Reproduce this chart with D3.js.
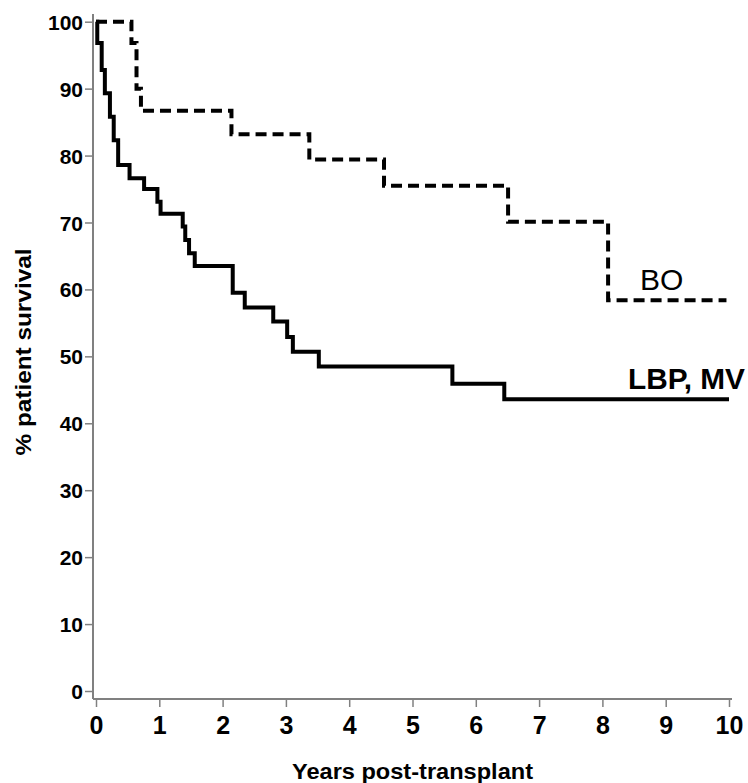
<!DOCTYPE html>
<html>
<head>
<meta charset="utf-8">
<script src="https://cdn.jsdelivr.net/npm/d3@7"></script>
<style>
  html, body { margin: 0; padding: 0; background: #fff; }
  svg { display: block; }
  text { font-family: "Liberation Sans", Arial, sans-serif; fill: #000; }
</style>
</head>
<body>
<svg id="chart" width="748" height="783"></svg>
<script>
// ---- Data ----
const xTicks = [0, 1, 2, 3, 4, 5, 6, 7, 8, 9, 10];
const yTicks = [0, 10, 20, 30, 40, 50, 60, 70, 80, 90, 100];

// LBP, MV (solid) : step times (years) and survival after each step (%)
const lbpTimes    = [0, 0.02, 0.09, 0.14, 0.22, 0.28, 0.35, 0.53, 0.76, 0.97, 1.02, 1.37, 1.41, 1.47, 1.56, 2.16, 2.35, 2.80, 3.02, 3.11, 3.52, 5.63, 6.45, 10.0];
const lbpSurvival = [100, 96.8, 92.8, 89.3, 85.8, 82.3, 78.6, 76.6, 75.0, 73.1, 71.3, 69.4, 67.4, 65.4, 63.5, 59.5, 57.3, 55.2, 52.9, 50.7, 48.5, 45.9, 43.6, 43.6];

// BO (dashed)
const boTimes    = [0, 0.56, 0.64, 0.71, 2.14, 3.37, 4.55, 6.51, 8.09, 9.96];
const boSurvival = [100, 96.8, 90.0, 86.7, 83.2, 79.4, 75.5, 70.1, 58.4, 58.4];

const seriesLabels = ["LBP, MV", "BO"];
const xTitle = "Years post-transplant";
const yTitle = "% patient survival";

// ---- Layout ----
const svg = d3.select("#chart");
const x = d3.scaleLinear().domain([0, 10]).range([96, 729]);
const y = d3.scaleLinear().domain([0, 100]).range([691, 21.7]);
const axisColor = "#808080";
const axisX = 93, axisY = 699;

// Y axis
const yAxis = d3.axisLeft(y).tickValues(yTicks).tickSize(8).tickSizeOuter(0).tickPadding(2);
const gy = svg.append("g").attr("transform", `translate(${axisX},0)`).call(yAxis);
gy.select(".domain").remove();
gy.selectAll(".tick line").attr("stroke", axisColor).attr("stroke-width", 1.5);
gy.selectAll(".tick text")
  .style("font-family", '"Liberation Sans", Arial, sans-serif')
  .style("font-weight", "bold").style("font-size", "21px").attr("fill", "#000")
  .attr("dy", "0.36em");
svg.append("line").attr("x1", axisX).attr("x2", axisX).attr("y1", 14).attr("y2", axisY)
  .attr("stroke", axisColor).attr("stroke-width", 2);

// X axis
const xAxis = d3.axisBottom(x).tickValues(xTicks).tickSize(8).tickSizeOuter(0);
const gx = svg.append("g").attr("transform", `translate(0,${axisY})`).call(xAxis);
gx.select(".domain").remove();
gx.selectAll(".tick line").attr("stroke", axisColor).attr("stroke-width", 1.5);
gx.selectAll(".tick text")
  .style("font-family", '"Liberation Sans Narrow", "Arial Narrow", "Liberation Sans", sans-serif')
  .style("font-weight", "bold").style("font-size", "25px").attr("fill", "#000")
  .attr("y", 35).attr("dy", 0);
svg.append("line").attr("x1", axisX).attr("x2", 732).attr("y1", axisY).attr("y2", axisY)
  .attr("stroke", axisColor).attr("stroke-width", 2);

// Curves
const line = d3.line().x(d => x(d[0])).y(d => y(d[1])).curve(d3.curveStepAfter);
const lbpData = lbpTimes.map((t, i) => [t, lbpSurvival[i]]);
const boData = boTimes.map((t, i) => [t, boSurvival[i]]);

svg.append("path").datum(boData).attr("d", line)
  .attr("fill", "none").attr("stroke", "#000").attr("stroke-width", 4)
  .attr("stroke-dasharray", "11,6");
svg.append("path").datum(lbpData).attr("d", line)
  .attr("fill", "none").attr("stroke", "#000").attr("stroke-width", 4)
  .attr("stroke-linejoin", "miter");

// Series labels
svg.append("text").attr("x", 640).attr("y", 290)
  .style("font-size", "30px").text(seriesLabels[1]);
svg.append("text").attr("x", 628).attr("y", 389)
  .style("font-size", "30px").style("font-weight", "bold")
  .attr("textLength", 117).attr("lengthAdjust", "spacingAndGlyphs")
  .text(seriesLabels[0]);

// Axis titles
svg.append("text").attr("x", 412.5).attr("y", 779).attr("text-anchor", "middle")
  .style("font-size", "22px").style("font-weight", "bold")
  .attr("textLength", 241).attr("lengthAdjust", "spacingAndGlyphs")
  .text(xTitle);
svg.append("text").attr("transform", "translate(31,352) rotate(-90)")
  .attr("text-anchor", "middle")
  .style("font-size", "22px").style("font-weight", "bold")
  .attr("textLength", 207).attr("lengthAdjust", "spacingAndGlyphs")
  .text(yTitle);
</script>
</body>
</html>
